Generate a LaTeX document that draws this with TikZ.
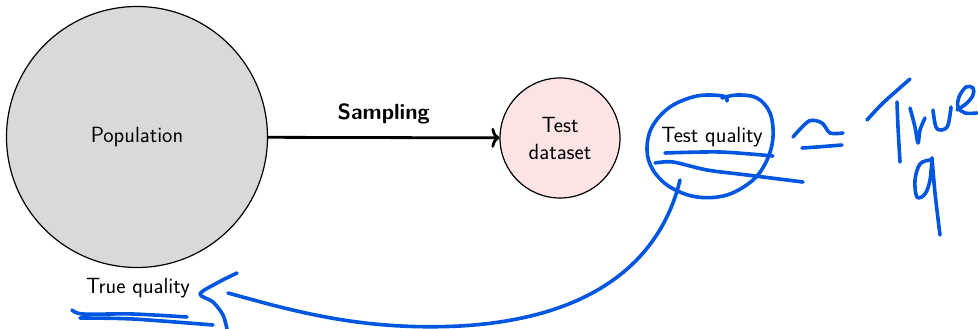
\documentclass[tikz,border=0pt]{standalone}
\usepackage{fontspec}
\usetikzlibrary{arrows.meta}
\definecolor{ink}{RGB}{0,85,225}
\definecolor{popfill}{RGB}{217,217,217}
\definecolor{testfill}{RGB}{253,228,228}
\begin{document}
\begin{tikzpicture}[x=1pt,y=-1pt,
  lbl/.style={font=\sffamily\fontsize{22}{27}\selectfont, inner sep=0pt, align=center},
  blbl/.style={font=\sffamily\bfseries\fontsize{22}{27}\selectfont, inner sep=0pt},
  circ/.style={circle, draw=black, line width=1.2pt, inner sep=0pt},
  pen/.style={draw=ink, line width=3.6pt, line cap=round, line join=round}]
\useasboundingbox (0,0) rectangle (978,329);

\node[circ, lbl, fill=popfill, minimum size=261pt] (pop) at (137,137) {Population};
\node[circ, lbl, fill=testfill, minimum size=120pt] (test) at (560,138) {Test\\dataset};
\draw[line width=2.8pt, -{To[length=8pt,width=20pt]}] (pop) -- node[blbl, above=12pt] (samp) {Sampling} (test);
\node[lbl] (tq) at (712,137) {Test quality};
\node[lbl] (trq) at (138,288) {True quality};

% loop around Test quality
\draw[pen] plot[smooth, tension=0.6] coordinates {(727,101) (723,96) (697,96) (670,107) (652,127) (647,150) (653,170) (670,187) (697,197) (727,195) (753,180) (767,160) (773,137) (770,113) (757,98) (737,95) (722,98)};
\draw[pen] plot[smooth] coordinates {(665,153) (720,152) (773,156)};
\draw[pen] plot[smooth] coordinates {(655,163) (673,162) (707,170) (747,175) (803,182)};
% tail to True quality
\coordinate (tailA) at (680,180);
\coordinate (tailB) at (228,293);
\draw[pen] (tailA) .. controls (662,255) and (600,318) .. (460,326) .. controls (360,331) and (290,310) .. (tailB);
\draw[pen] plot[smooth, tension=0.5] coordinates {(237,273) (217,283) (200,294) (213,302) (223,315) (227,329)};
% underlines of True quality
\draw[pen] plot[smooth] coordinates {(72,310) (83,314) (133,314) (187,317)};
\draw[pen] plot[smooth] coordinates {(80,318) (133,319) (213,325)};
% approx-equal sign
\draw[pen] plot[smooth] coordinates {(793,137) (809,121) (822,123) (830,133) (843,133)};
\draw[pen] plot[smooth] coordinates {(802,148) (817,147) (842,145)};
% handwritten "True q"
\draw[pen] plot[smooth] coordinates {(867,120) (883,103) (910,79)};
\draw[pen] plot[smooth] coordinates {(897,102) (898,127) (900,162)};
\draw[pen] plot[smooth, tension=0.6] coordinates {(910,108) (915,127) (918,143) (920,130) (925,118)};
\draw[pen] plot[smooth, tension=0.6] coordinates {(933,110) (936,127) (942,130) (948,125) (951,107)};
\draw[pen] plot[smooth, tension=0.6] coordinates {(957,110) (967,103) (973,95) (973,88) (966,87) (959,97) (958,107) (965,113) (977,113)};
\draw[pen] plot[smooth, tension=0.6] coordinates {(930,160) (920,164) (915,180) (917,197) (925,194) (930,180) (932,158)};
\draw[pen] plot[smooth] coordinates {(932,158) (935,193) (940,235)};
\end{tikzpicture}
\end{document}
